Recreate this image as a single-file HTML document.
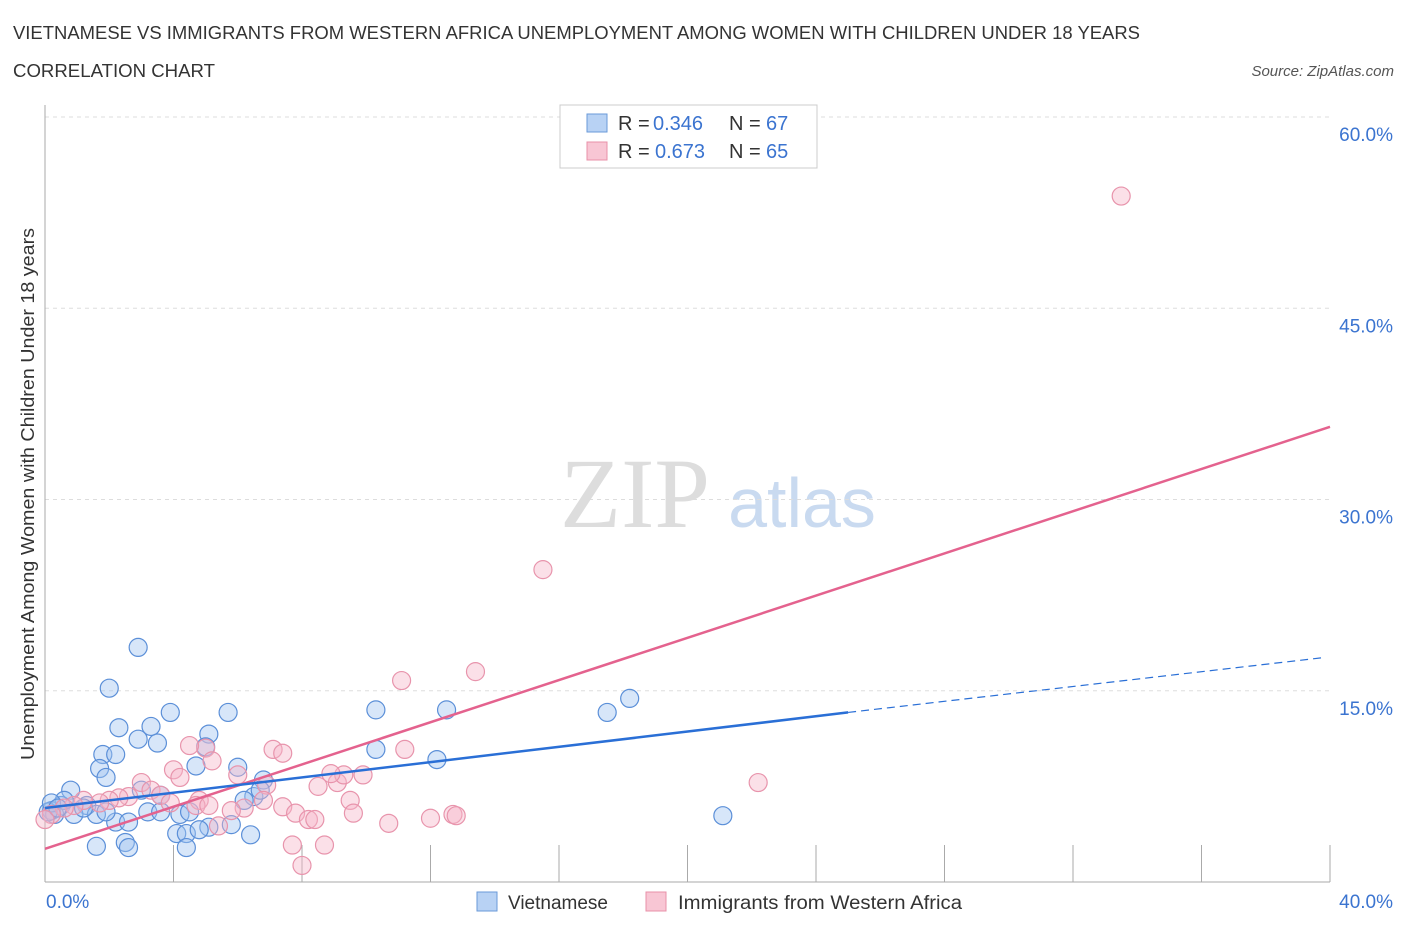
<!DOCTYPE html>
<html><head><meta charset="utf-8"><style>
body{margin:0;background:#fff;font-family:"Liberation Sans",sans-serif;}
</style></head><body>
<svg id="chart" width="1406" height="930" xmlns="http://www.w3.org/2000/svg" font-family="Liberation Sans, sans-serif">
<text x="13" y="39" font-size="18" fill="#333" textLength="1127" lengthAdjust="spacingAndGlyphs">VIETNAMESE VS IMMIGRANTS FROM WESTERN AFRICA UNEMPLOYMENT AMONG WOMEN WITH CHILDREN UNDER 18 YEARS</text>
<text x="13" y="77" font-size="18" fill="#333" textLength="202" lengthAdjust="spacingAndGlyphs">CORRELATION CHART</text>
<text x="1394" y="76" font-size="15" fill="#555" font-style="italic" text-anchor="end">Source: ZipAtlas.com</text>
<g>
<text x="635" y="527" font-size="100" style="font-family:'Liberation Serif',serif" fill="#ddd" text-anchor="middle">ZIP</text>
<text x="802" y="527" font-size="70" fill="#c9daf0" text-anchor="middle">atlas</text>
</g>
<g id="grid"></g>
<g id="axes"></g>
<g id="marks"></g>
<g>
<rect x="560" y="105" width="257" height="63" fill="#fff" stroke="#ccc"/>
<rect x="587" y="114" width="20" height="18" fill="#b8d2f4" stroke="#6a9ad8"/>
<text x="618" y="130" font-size="20" fill="#333">R =</text>
<text x="653" y="130" font-size="20" fill="#3b74d0">0.346</text>
<text x="729" y="130" font-size="20" fill="#333">N =</text>
<text x="766" y="130" font-size="20" fill="#3b74d0">67</text>
<rect x="587" y="142" width="20" height="18" fill="#f8c6d4" stroke="#e890a8"/>
<text x="618" y="158" font-size="20" fill="#333">R =</text>
<text x="655" y="158" font-size="20" fill="#3b74d0">0.673</text>
<text x="729" y="158" font-size="20" fill="#333">N =</text>
<text x="766" y="158" font-size="20" fill="#3b74d0">65</text>
</g>
<g>
<rect x="477" y="892" width="20" height="19" fill="#b8d2f4" stroke="#6a9ad8"/>
<text x="508" y="909" font-size="19" fill="#333">Vietnamese</text>
<rect x="646" y="892" width="20" height="19" fill="#f8c6d4" stroke="#e890a8"/>
<text x="678" y="909" font-size="19" fill="#333" textLength="284" lengthAdjust="spacingAndGlyphs">Immigrants from Western Africa</text>
</g>
<text transform="translate(34,494) rotate(-90)" font-size="18" fill="#333" text-anchor="middle" textLength="532" lengthAdjust="spacingAndGlyphs">Unemployment Among Women with Children Under 18 years</text>
</svg>
<script>
const yTicks=[15,30,45,60];
const yTickLabels=["15.0%","30.0%","45.0%","60.0%"];
const xTickLabels=["0.0%","40.0%"];
const blueX=[2.9,2.0,2.3,3.3,3.9,5.7,5.1,2.9,3.5,1.8,2.2,1.7,1.9,4.7,5.0,6.0,6.8,6.5,0.8,1.3,0.5,0.2,0.3,0.9,1.6,2.2,2.6,3.2,3.6,4.2,4.5,5.1,5.8,4.1,4.4,4.8,6.4,1.6,2.5,2.6,4.4,10.3,12.5,18.2,17.5,10.3,12.2,21.1,0.1,0.6,1.2,1.9,3.0,3.6,6.2,6.7,0.2,0.4];
const blueY=[18.4,15.2,12.1,12.2,13.3,13.3,11.6,11.2,10.9,10.0,10.0,8.9,8.2,9.1,10.6,9.0,8.0,6.7,7.2,6.0,6.0,5.6,5.3,5.3,5.3,4.7,4.7,5.5,5.5,5.3,5.5,4.3,4.5,3.8,3.8,4.1,3.7,2.8,3.1,2.7,2.7,13.5,13.5,14.4,13.3,10.4,9.6,5.2,5.5,6.4,5.8,5.5,7.2,6.8,6.4,7.2,6.2,5.8];
const pinkX=[33.5,15.5,13.4,11.1,7.1,7.4,5.0,5.2,4.5,4.0,4.2,6.0,6.9,9.1,8.5,9.3,9.9,8.9,11.2,22.2,9.5,7.4,7.8,8.2,8.4,9.6,10.7,12.0,12.7,12.8,7.7,8.7,8.0,5.4,6.2,3.0,3.3,3.6,2.6,2.3,2.0,1.7,1.2,0.9,0.6,0.2,0.0,4.8,3.9,4.7,5.1,5.8,6.8];
const pinkY=[53.8,24.5,16.5,15.8,10.4,10.1,10.5,9.5,10.7,8.8,8.2,8.4,7.6,7.8,7.5,8.4,8.4,8.5,10.4,7.8,6.4,5.9,5.4,4.9,4.9,5.4,4.6,5.0,5.3,5.2,2.9,2.9,1.3,4.4,5.8,7.8,7.2,6.8,6.7,6.6,6.4,6.2,6.4,6.0,5.8,5.3,4.9,6.4,6.2,6.0,6.0,5.6,6.4];
const blueTrend=[5.8,13.3,17.6];
const blueTrendX=[0,25,39.8];
const pinkTrend=[2.6,35.7];
const pinkTrendX=[0,40];

const NS="http://www.w3.org/2000/svg";
const sx=v=>45+v*1285/40;
const sy=v=>882-v*765/60;
function mk(tag,attrs,parent){const e=document.createElementNS(NS,tag);for(const k in attrs)e.setAttribute(k,attrs[k]);parent.appendChild(e);return e;}
const grid=document.getElementById('grid'),axes=document.getElementById('axes'),marks=document.getElementById('marks');
yTicks.forEach((t,i)=>{
 const l=mk('line',{x1:45,x2:1330,y1:sy(t),y2:sy(t),stroke:'#ddd','stroke-dasharray':'4,4'},grid);
 
 
 const tx=mk('text',{x:1393,y:sy(t)+24,'font-size':19,fill:'#3b74d0','text-anchor':'end'},axes);
 tx.textContent=yTickLabels[i];
 
 
});
const ya=mk('line',{x1:45,x2:45,y1:105,y2:882,stroke:'#aaa'},axes);


const xa=mk('line',{x1:45,x2:1330,y1:882,y2:882,stroke:'#aaa'},axes);


for(let v=4;v<=40;v+=4){
 const tk=mk('line',{x1:sx(v),x2:sx(v),y1:845,y2:882,stroke:'#aaa'},axes);
 
 
}
[[0,'start',46],[40,'end',1393]].forEach((a,i)=>{
 const tx=mk('text',{x:a[2],y:908,'font-size':19,fill:'#3b74d0','text-anchor':a[1]},axes);
 tx.textContent=xTickLabels[i];
 
 
});
blueX.forEach((x,i)=>{
 const c=mk('circle',{cx:sx(x),cy:sy(blueY[i]),r:9,fill:'rgba(160,196,240,0.42)',stroke:'#5b8fd8','stroke-width':1.2},marks);
 
 
});
pinkX.forEach((x,i)=>{
 const c=mk('circle',{cx:sx(x),cy:sy(pinkY[i]),r:9,fill:'rgba(245,180,200,0.42)',stroke:'#e894ac','stroke-width':1.2},marks);
 
 
});
const pl=mk('line',{x1:sx(pinkTrendX[0]),y1:sy(pinkTrend[0]),x2:sx(pinkTrendX[1]),y2:sy(pinkTrend[1]),stroke:'#e4628e','stroke-width':2.5},marks);


const bl=mk('line',{x1:sx(blueTrendX[0]),y1:sy(blueTrend[0]),x2:sx(blueTrendX[1]),y2:sy(blueTrend[1]),stroke:'#2a6fd6','stroke-width':2.5},marks);


const bd=mk('line',{x1:sx(blueTrendX[1]),y1:sy(blueTrend[1]),x2:sx(blueTrendX[2]),y2:sy(blueTrend[2]),stroke:'#2a6fd6','stroke-width':1.2,'stroke-dasharray':'8,5'},marks);


</script>
</body></html>
